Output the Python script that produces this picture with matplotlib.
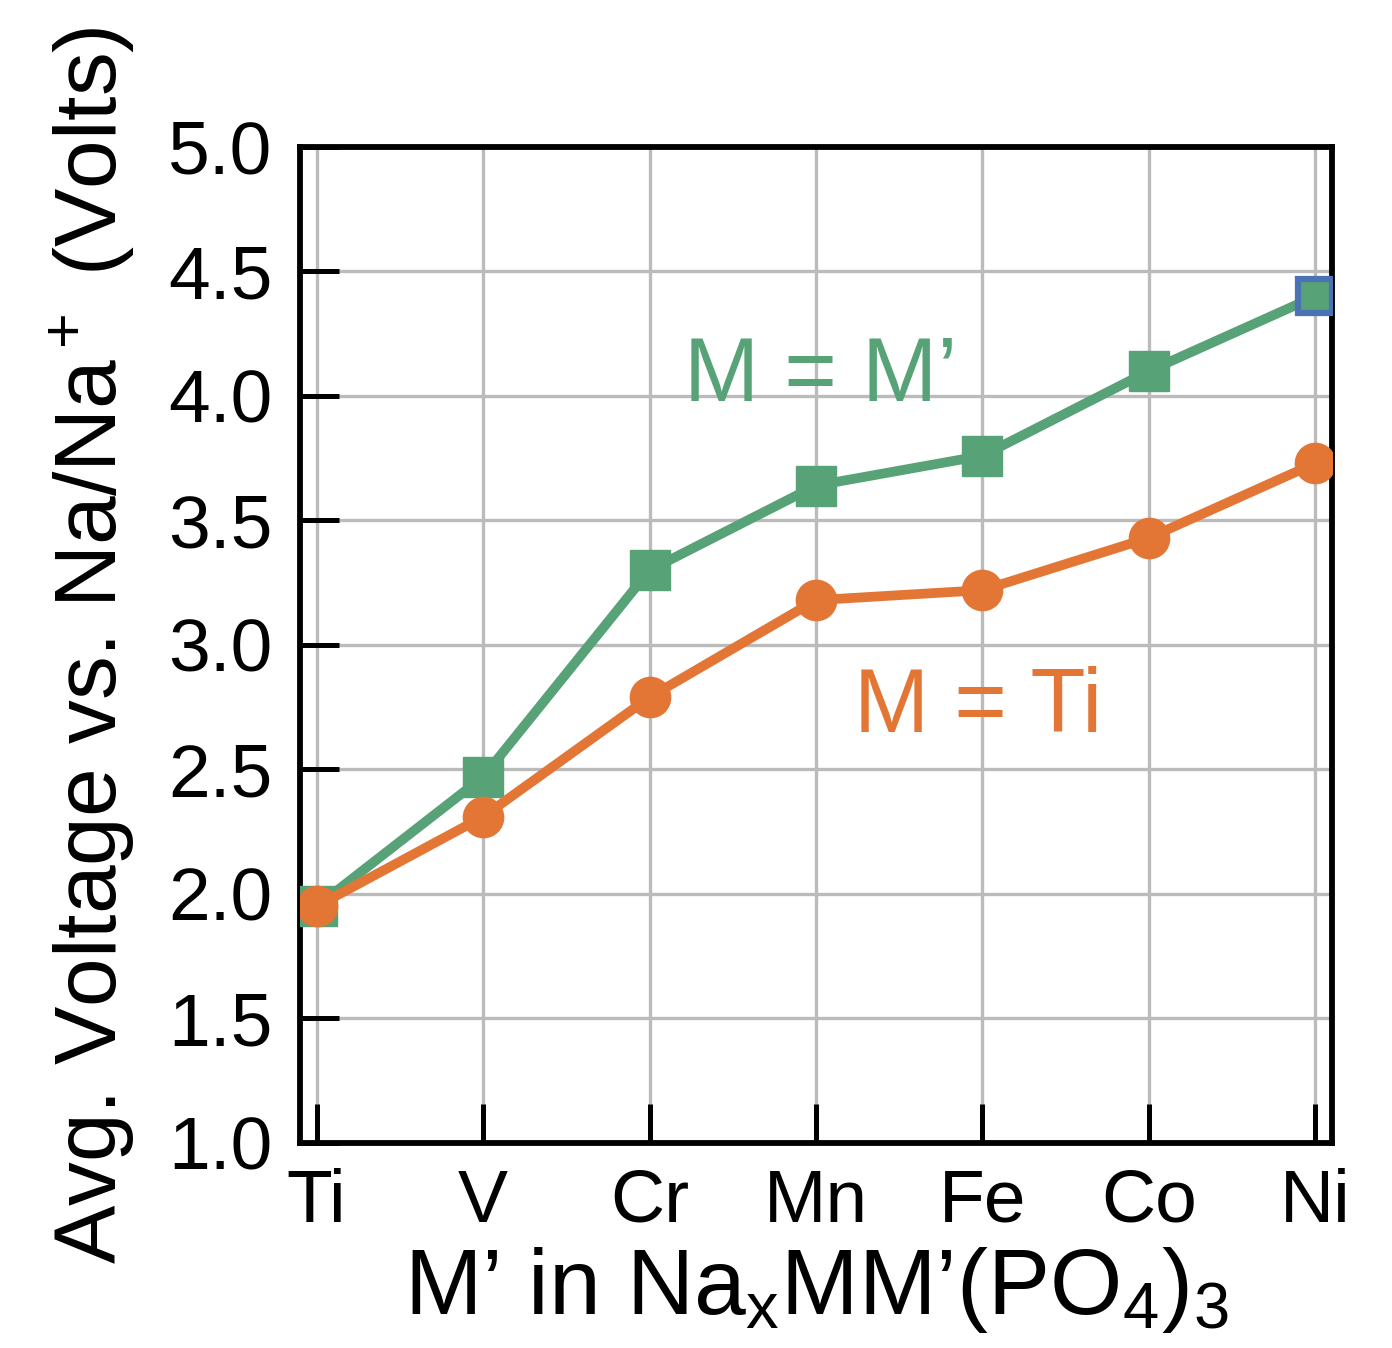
import matplotlib
matplotlib.use('Agg')
import matplotlib.pyplot as plt

plt.rcParams['font.family'] = ['Liberation Sans', 'DejaVu Sans']
plt.rcParams['mathtext.fontset'] = 'custom'
plt.rcParams['mathtext.rm'] = 'Liberation Sans'
plt.rcParams['mathtext.it'] = 'Liberation Sans'
plt.rcParams['mathtext.default'] = 'regular'

metals = ['Ti', 'V', 'Cr', 'Mn', 'Fe', 'Co', 'Ni']
v_same = [1.95, 2.47, 3.30, 3.64, 3.76, 4.10, 4.40]
v_ti = [1.95, 2.31, 2.79, 3.18, 3.22, 3.43, 3.73]

green = '#57a277'
orange = '#e37535'
blue = '#4a72b5'

fig = plt.figure(figsize=(13.92, 13.48), dpi=100)
ax = fig.add_axes([0.2155, 0.1521, 0.9569 - 0.2155, 0.891 - 0.1521])

x = list(range(len(metals)))
ax.plot(x, v_same, color=green, lw=7, marker='s', ms=29, mec=green,
        markevery=list(range(len(metals) - 1)), zorder=3)
# Ni point drawn with a blue outline
ax.plot(x[-1:], v_same[-1:], ls='none', marker='s', ms=25, mfc=green,
        mec=blue, mew=4.5, zorder=3)
ax.plot(x, v_ti, color=orange, lw=7, marker='o', ms=29, zorder=4)

ax.text(2.21, 3.98, 'M = M’', color=green, fontsize=65)
ax.text(3.23, 2.65, 'M = Ti', color=orange, fontsize=65)

ax.set_xlim(-0.1, 6.1)
ax.set_ylim(1.0, 5.0)
ax.set_xticks(x)
ax.set_xticklabels(metals)
ax.set_yticks([1.0, 1.5, 2.0, 2.5, 3.0, 3.5, 4.0, 4.5, 5.0])
ax.set_yticklabels(['1.0', '1.5', '2.0', '2.5', '3.0', '3.5', '4.0', '4.5', '5.0'])

ax.grid(True, color='#bbbbbb', lw=2.4, zorder=0)
ax.set_axisbelow(True)
for s in ax.spines.values():
    s.set_linewidth(4.2)
ax.tick_params(direction='in', length=28, width=3.6, labelsize=54)
ax.tick_params(axis='x', pad=18)
ax.tick_params(axis='y', pad=20)

ax.set_xlabel('M’ in Na$_x$MM’(PO$_4$)$_3$', fontsize=67, labelpad=6)
ax.set_ylabel('Avg. Voltage vs. Na/Na$^+$ (Volts)', fontsize=63, labelpad=22)

fig.savefig('out.png', dpi=100)
